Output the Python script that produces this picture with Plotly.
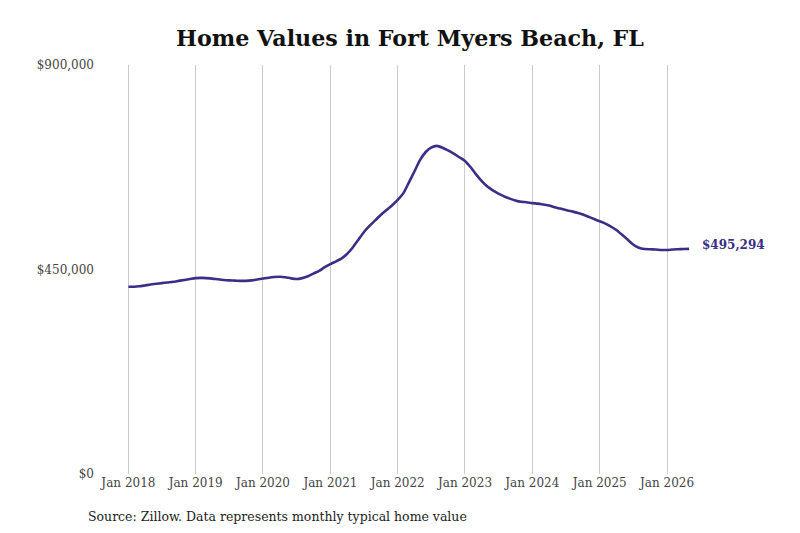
import pandas as pd
import plotly.graph_objects as go

# Monthly typical home value, Jan 2018 - May 2026
months = pd.date_range("2018-01-01", "2026-05-01", freq="MS")
home_values = [
    # 2018
    412000, 412000, 413000, 415000, 417000, 418500, 420000, 421500, 423000, 425000, 427000, 429000,
    # 2019
    431000, 431500, 431000, 430000, 428500, 427000, 426000, 425500, 425000, 425000, 426000, 428000,
    # 2020
    430000, 432000, 433500, 434000, 433000, 430500, 429000, 431000, 435000, 441000, 447000, 455000,
    # 2021
    462000, 468000, 474000, 484000, 498000, 515000, 532000, 546000, 558000, 570000, 581000, 591000,
    # 2022
    603000, 618000, 640000, 665000, 690000, 708000, 718000, 722000, 718000, 712000, 705000, 697000,
    # 2023
    689000, 675000, 660000, 645000, 633000, 624000, 617000, 611000, 606000, 602000, 599000, 598000,
    # 2024
    596000, 595000, 593000, 591000, 587000, 584000, 581000, 578000, 575000, 571000, 566000, 561000,
    # 2025
    556000, 551000, 545000, 537000, 527000, 516000, 505000, 498000, 495000, 494500, 494000, 493000,
    # 2026
    493000, 494000, 494500, 495000, 495294,
]
year_ticks = pd.date_range("2018-01-01", "2026-01-01", freq="YS")
year_labels = [d.strftime("Jan %Y") for d in year_ticks]
value_ticks = [0, 450000, 900000]
value_labels = ["$0", "$450,000", "$900,000"]

line_color = "#3b2e86"
serif = "DejaVu Serif"

fig = go.Figure()
fig.add_trace(go.Scatter(
    x=months, y=home_values, mode="lines",
    line=dict(color=line_color, width=2.6, shape="spline", smoothing=0.6),
    hoverinfo="skip", showlegend=False))

# last value label
fig.add_annotation(
    x=months[-1], y=home_values[-1], text=f"<b>${home_values[-1]:,}</b>",
    showarrow=False, xanchor="left", xshift=11, yshift=4,
    font=dict(family=serif, size=12, color=line_color))

fig.add_annotation(
    xref="paper", yref="paper", x=-0.0233, y=-0.105,
    text="Source: Zillow. Data represents monthly typical home value",
    showarrow=False, xanchor="left", yanchor="middle",
    font=dict(family=serif, size=12.5, color="#222222"))

# the page adds an 8px body margin, so the margins are shifted up/left by 8px
fig.update_layout(
    width=800, height=533,
    title=dict(text="<b>Home Values in Fort Myers Beach, FL</b>",
               x=0.5025, xanchor="center", y=1 - 30 / 533, yanchor="middle",
               font=dict(family=serif, size=22.2, color="#111111")),
    margin=dict(l=92, r=108, t=57, b=67),
    plot_bgcolor="white", paper_bgcolor="white",
    xaxis=dict(range=["2017-07-31", "2026-06-29"],
               tickvals=year_ticks, ticktext=year_labels,
               showgrid=True, gridcolor="#cccccc", gridwidth=1,
               zeroline=False, showline=False, ticks="",
               tickfont=dict(family=serif, size=12, color="#444444")),
    yaxis=dict(range=[0, 900000],
               tickvals=value_ticks, ticktext=value_labels,
               showgrid=False, zeroline=False, showline=False, ticks="",
               ticklabelstandoff=5,
               tickfont=dict(family=serif, size=12, color="#444444")),
)

fig.write_html("out.html")
